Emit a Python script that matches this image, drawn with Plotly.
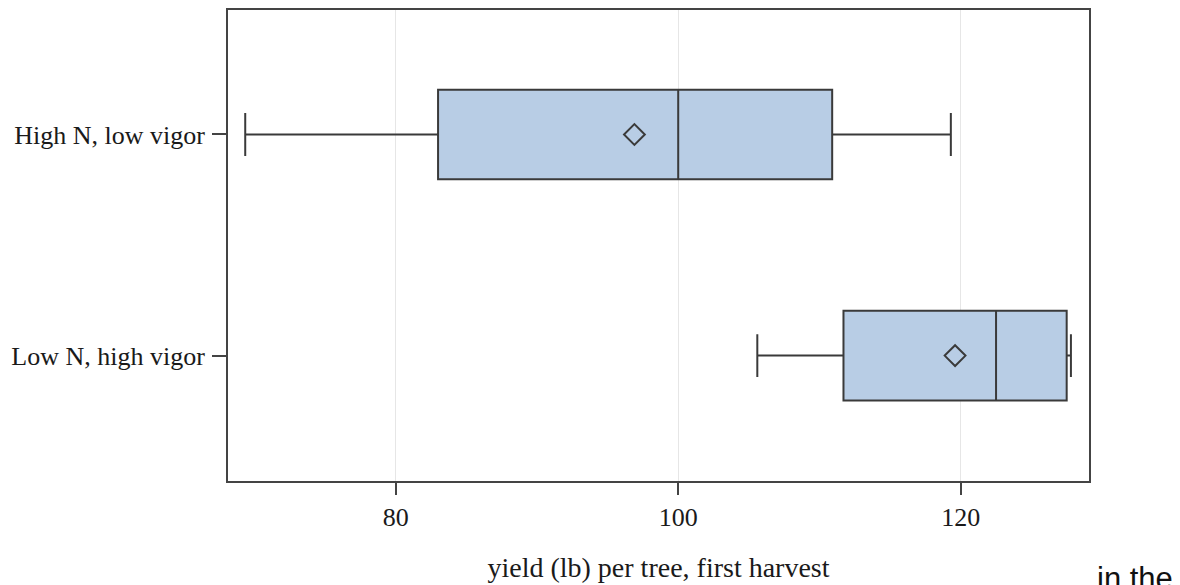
import plotly.graph_objects as go

categories = ["High N, low vigor", "Low N, high vigor"]
lower_whisker = [69.35, 105.6]
q1_vals = [83.0, 111.7]
median_vals = [100.0, 122.5]
q3_vals = [110.9, 127.5]
upper_whisker = [119.3, 127.8]
mean_vals = [96.9, 119.6]
x_ticks = [80, 100, 120]

line_col = "#3a3a3a"
fill_col = "#b8cde5"
serif = "Liberation Serif, Times New Roman, serif"

fig = go.Figure()
fig.add_trace(go.Box(
    y=categories, orientation="h",
    q1=q1_vals, median=median_vals, q3=q3_vals,
    lowerfence=lower_whisker, upperfence=upper_whisker,
    fillcolor=fill_col, line=dict(color=line_col, width=2),
    width=0.405, whiskerwidth=0.48, boxpoints=False, showlegend=False,
    hoverinfo="skip",
))
fig.add_trace(go.Scatter(
    x=mean_vals, y=categories, mode="markers",
    marker=dict(symbol="diamond-open", size=16, color=line_col,
                line=dict(color=line_col, width=2)),
    showlegend=False, hoverinfo="skip",
))

fig.update_layout(
    width=1180, height=585,
    margin=dict(l=220, r=99, t=0, b=112),
    paper_bgcolor="white", plot_bgcolor="white",
    font=dict(family=serif, color="#1a1a1a"),
    xaxis=dict(
        range=[68.13, 129.08], tickvals=x_ticks,
        showgrid=True, gridcolor="#e6e6e6", gridwidth=1,
        zeroline=False, showline=True, linecolor="#444444", linewidth=2,
        mirror=True, ticks="outside", ticklen=12, tickwidth=2,
        tickcolor="#444444", tickfont=dict(size=26, family=serif),
        title=dict(text="yield (lb) per tree, first harvest",
                   font=dict(size=28, family=serif), standoff=26),
    ),
    yaxis=dict(
        type="category", categoryorder="array",
        categoryarray=[categories[1], categories[0]],
        range=[-0.567, 1.563], showgrid=False, zeroline=False,
        showline=True, linecolor="#444444", linewidth=2, mirror=True,
        ticks="outside", ticklen=14, tickwidth=2, tickcolor="#444444",
        tickfont=dict(size=26, family=serif), ticklabelstandoff=2,
    ),
    annotations=[dict(
        text="in the", xref="paper", yref="paper",
        x=1.007, y=-0.166, xanchor="left", yanchor="top",
        showarrow=False,
        font=dict(family="Liberation Sans, Arial, sans-serif", size=31,
                  color="#111111"),
    )],
)

fig.write_html("out.html")
